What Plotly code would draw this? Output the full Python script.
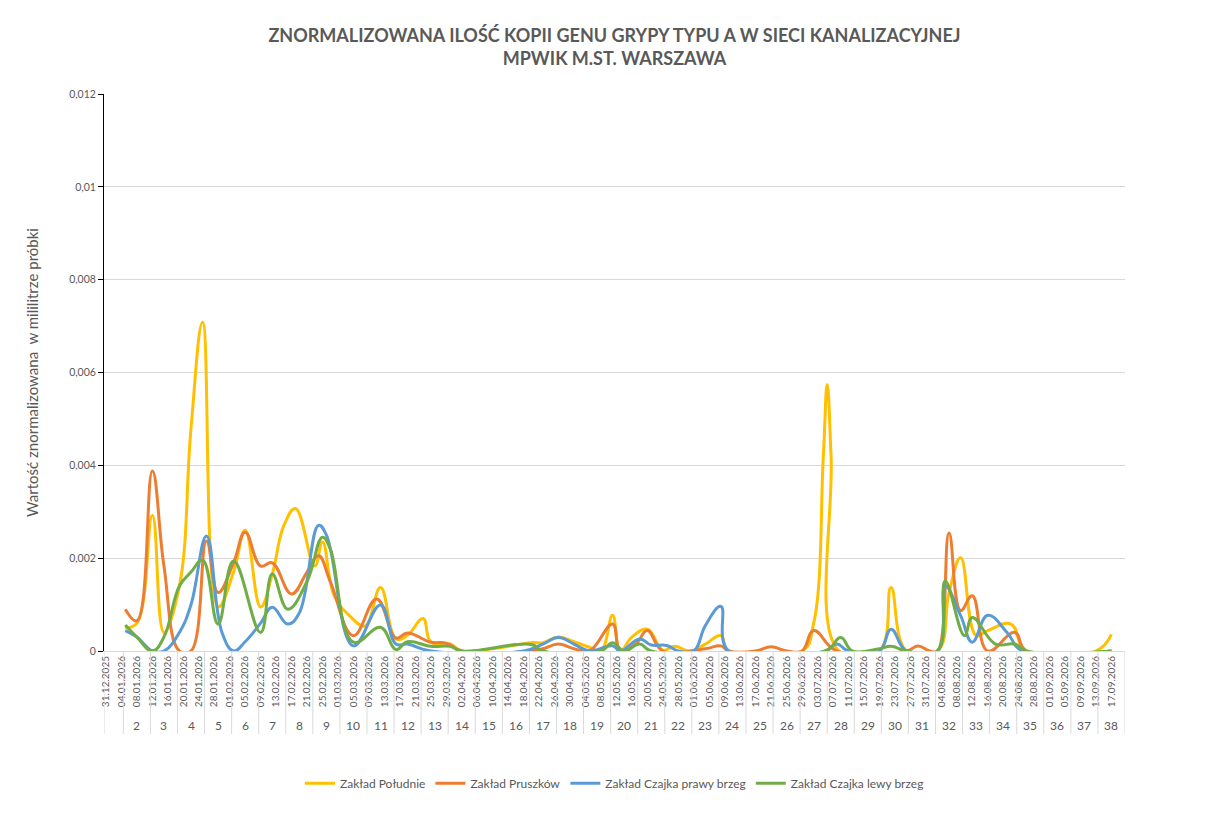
import pandas as pd
import plotly.graph_objects as go

# Zakład Południe
dates_poludnie = ["2026-01-05", "2026-01-08", "2026-01-12", "2026-01-15", "2026-01-19", "2026-01-22",
                  "2026-01-25", "2026-01-29", "2026-02-02", "2026-02-05", "2026-02-09", "2026-02-12",
                  "2026-02-15", "2026-02-18", "2026-02-23", "2026-02-25", "2026-02-28", "2026-03-04",
                  "2026-03-08", "2026-03-12", "2026-03-16", "2026-03-19", "2026-03-23", "2026-03-25",
                  "2026-03-30", "2026-04-02", "2026-04-10", "2026-04-20", "2026-04-23", "2026-04-27",
                  "2026-05-01", "2026-05-05", "2026-05-08", "2026-05-11", "2026-05-13", "2026-05-16",
                  "2026-05-20", "2026-05-24", "2026-05-27", "2026-05-31", "2026-06-04", "2026-06-08",
                  "2026-06-10", "2026-06-29", "2026-07-02", "2026-07-04 12:00", "2026-07-05 12:00",
                  "2026-07-06 12:00", "2026-07-08 12:00", "2026-07-19",
                  "2026-07-22", "2026-07-26", "2026-08-03", "2026-08-06", "2026-08-09", "2026-08-13",
                  "2026-08-16", "2026-08-22", "2026-08-26", "2026-09-13", "2026-09-17"]
vals_poludnie = [0.00050, 0.00060, 0.00292, 0.00040, 0.00140, 0.00480,
                 0.00708, 0.00095, 0.00170, 0.00260, 0.00095, 0.00165,
                 0.00270, 0.00307, 0.00183, 0.00235, 0.00120, 0.00076,
                 0.00054, 0.00137, 0.00026, 0.00034, 0.00070, 0.00020,
                 0.00015, 0.0, 0.00005, 0.00018, 0.00018, 0.00030,
                 0.00020, 0.00008, 0.0, 0.00077, 0.0, 0.00030,
                 0.00047, 0.00002, 0.00010, 0.0, 0.00015, 0.00033,
                 0.0, 0.0, 0.00060, 0.00420, 0.00574,
                 0.00420, 0.0, 0.0,
                 0.00137, 0.0, 0.0, 0.00126, 0.00201, 0.00033,
                 0.00044, 0.00058, 0.0, 0.0, 0.00036]

# Zakład Pruszków
dates_pruszkow = ["2026-01-05", "2026-01-08", "2026-01-12", "2026-01-15", "2026-01-19", "2026-01-22",
                  "2026-01-26", "2026-01-29", "2026-02-02", "2026-02-05", "2026-02-09", "2026-02-12",
                  "2026-02-17", "2026-02-21", "2026-02-24", "2026-02-27", "2026-03-05", "2026-03-11",
                  "2026-03-16", "2026-03-19", "2026-03-25", "2026-03-29", "2026-04-02", "2026-04-20",
                  "2026-04-23", "2026-04-27", "2026-05-01", "2026-05-05", "2026-05-11", "2026-05-13",
                  "2026-05-17", "2026-05-20", "2026-05-24", "2026-06-04", "2026-06-08", "2026-06-10",
                  "2026-06-17", "2026-06-21", "2026-06-25", "2026-06-29", "2026-07-02", "2026-07-08",
                  "2026-07-26", "2026-07-29", "2026-08-01", "2026-08-03", "2026-08-06", "2026-08-09",
                  "2026-08-12", "2026-08-16", "2026-08-23", "2026-08-26", "2026-09-17"]
vals_pruszkow = [0.00090, 0.00065, 0.00388, 0.00183, 0.0, 0.0,
                 0.00237, 0.00126, 0.00190, 0.00256, 0.00183, 0.00190,
                 0.00123, 0.00170, 0.00205, 0.00150, 0.00033, 0.00112,
                 0.00028, 0.00039, 0.00019, 0.00017, 0.0, 0.0,
                 0.00005, 0.00015, 0.00005, 0.0, 0.00058, 0.0,
                 0.00015, 0.00044, 0.0, 0.00005, 0.00011, 0.0,
                 0.0, 0.00009, 0.0, 0.0, 0.00044, 0.0,
                 0.0, 0.00011, 0.0, 0.0, 0.00254, 0.00087,
                 0.00119, 0.0, 0.00040, 0.0, 0.0]

# Zakład Czajka prawy brzeg
dates_czajka_p = ["2026-01-05", "2026-01-08", "2026-01-12", "2026-01-15", "2026-01-19", "2026-01-22",
                  "2026-01-26", "2026-01-30", "2026-02-02", "2026-02-05", "2026-02-09", "2026-02-12",
                  "2026-02-16", "2026-02-19", "2026-02-24", "2026-02-26", "2026-03-05", "2026-03-12",
                  "2026-03-16", "2026-03-19", "2026-03-25", "2026-04-18", "2026-04-23", "2026-04-27",
                  "2026-05-01", "2026-05-05", "2026-05-11", "2026-05-13", "2026-05-18", "2026-05-21",
                  "2026-05-25", "2026-05-28", "2026-06-01", "2026-06-04", "2026-06-08", "2026-06-10",
                  "2026-07-05", "2026-07-08", "2026-07-11", "2026-07-19", "2026-07-22", "2026-07-26",
                  "2026-08-03", "2026-08-05", "2026-08-09", "2026-08-12", "2026-08-16", "2026-08-21",
                  "2026-08-25", "2026-09-17"]
vals_czajka_p = [0.00044, 0.00030, 0.0, 0.0, 0.00040, 0.00100,
                 0.00248, 0.00040, 0.0, 0.00020, 0.00060, 0.00094,
                 0.00058, 0.00082, 0.00271, 0.00250, 0.00011, 0.00099,
                 0.00015, 0.00015, 0.0, 0.0, 0.00015, 0.00029,
                 0.00015, 0.0, 0.00011, 0.0, 0.00026, 0.00013,
                 0.00012, 0.0, 0.0, 0.00055, 0.00096, 0.0,
                 0.0, 0.00015, 0.0, 0.0, 0.00047, 0.0,
                 0.0, 0.00140, 0.00076, 0.00019, 0.00077, 0.00040,
                 0.0, 0.0]

# Zakład Czajka lewy brzeg
dates_czajka_l = ["2026-01-05", "2026-01-08", "2026-01-12", "2026-01-15", "2026-01-19", "2026-01-22",
                  "2026-01-25", "2026-01-29", "2026-02-02", "2026-02-09", "2026-02-12", "2026-02-16",
                  "2026-02-21", "2026-02-25", "2026-02-27", "2026-03-05", "2026-03-12", "2026-03-16",
                  "2026-03-19", "2026-03-25", "2026-03-30", "2026-04-02", "2026-04-20", "2026-04-23",
                  "2026-05-08", "2026-05-11", "2026-05-14", "2026-05-18", "2026-05-21", "2026-07-05",
                  "2026-07-09", "2026-07-12", "2026-07-19", "2026-07-22", "2026-07-26", "2026-08-03",
                  "2026-08-05", "2026-08-10", "2026-08-12", "2026-08-18", "2026-08-23", "2026-08-26",
                  "2026-09-17"]
vals_czajka_l = [0.00056, 0.00030, 0.0, 0.00030, 0.00140, 0.00170,
                 0.00196, 0.00058, 0.00194, 0.00040, 0.00166, 0.00090,
                 0.00150, 0.00245, 0.00220, 0.00019, 0.00051, 0.00003,
                 0.00020, 0.00010, 0.00010, 0.0, 0.00014, 0.0,
                 0.0, 0.00018, 0.0, 0.00015, 0.0, 0.0,
                 0.00029, 0.0, 0.00005, 0.00010, 0.0, 0.0,
                 0.00151, 0.00033, 0.00072, 0.00015, 0.00015, 0.0,
                 0.0]

series = [
    ("Zakład Południe", dates_poludnie, vals_poludnie, "#FFC000"),
    ("Zakład Pruszków", dates_pruszkow, vals_pruszkow, "#ED7D31"),
    ("Zakład Czajka prawy brzeg", dates_czajka_p, vals_czajka_p, "#5B9BD5"),
    ("Zakład Czajka lewy brzeg", dates_czajka_l, vals_czajka_l, "#70AD47"),
]

y_ticks = [0, 0.002, 0.004, 0.006, 0.008, 0.01, 0.012]
y_labels = ["0", "0,002", "0,004", "0,006", "0,008", "0,01", "0,012"]

first_day = pd.Timestamp("2025-12-31")
last_day = pd.Timestamp("2026-09-20")
half = pd.Timedelta(hours=12)
label_days = pd.date_range("2025-12-31", "2026-09-17", freq="4D")
week_mondays = pd.date_range("2026-01-05", "2026-09-14", freq="7D")

grey = "#595959"
font = "Lato"

fig = go.Figure()
for name, d, v, c in series:
    fig.add_trace(go.Scatter(x=pd.to_datetime(d, format="ISO8601"), y=v, name=name, mode="lines",
                             line=dict(color=c, width=3, shape="spline", smoothing=1.2)))

# week separators below the axis
bounds = [first_day - half] + [m - half for m in week_mondays] + [last_day + half]
for b in bounds:
    fig.add_shape(type="line", xref="x", yref="paper", x0=b, x1=b, y0=0, y1=-0.149,
                  line=dict(color="#D9D9D9", width=1))

# week numbers
for m in week_mondays:
    fig.add_annotation(x=m + pd.Timedelta(days=3), y=-0.134, xref="x", yref="paper",
                       text=str(m.isocalendar().week), showarrow=False,
                       font=dict(family=font, size=12, color=grey), yanchor="middle")

fig.update_layout(
    width=1205, height=800,
    margin=dict(l=96, r=88, t=86, b=156),
    paper_bgcolor="white", plot_bgcolor="white",
    font=dict(family=font, color=grey),
    title=dict(text="<b>ZNORMALIZOWANA ILOŚĆ KOPII GENU GRYPY TYPU A W SIECI KANALIZACYJNEJ<br>MPWIK M.ST. WARSZAWA</b>",
               x=0.5, xref="paper", y=0.958, yref="container", yanchor="middle",
               font=dict(family=font, size=18, color=grey)),
    legend=dict(orientation="h", x=0.5, xanchor="center", y=-0.235, yanchor="middle",
                font=dict(family=font, size=12, color=grey)),
    showlegend=True,
)

fig.update_xaxes(type="date", range=[first_day - half, last_day + half],
                 tickvals=label_days, ticktext=[d.strftime("%d.%m.%Y") for d in label_days],
                 tickangle=-90, tickfont=dict(family=font, size=10, color=grey),
                 showgrid=False, showline=True, linecolor="#D9D9D9", linewidth=1,
                 ticks="", zeroline=False)
fig.update_yaxes(range=[0, 0.012], tickvals=y_ticks, ticktext=y_labels,
                 tickfont=dict(family=font, size=10.5, color=grey),
                 showgrid=True, gridcolor="#D9D9D9", gridwidth=1,
                 showline=True, linecolor="black", linewidth=1,
                 ticks="outside", ticklen=5, tickcolor="black", zeroline=False,
                 title=dict(text="Wartość znormalizowana  w mililitrze próbki",
                            font=dict(family=font, size=15, color=grey), standoff=26))

fig.write_html("out.html")
